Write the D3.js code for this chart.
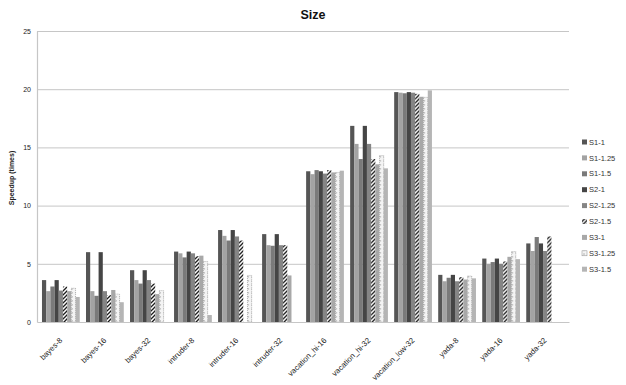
<!DOCTYPE html>
<html>
<head>
<meta charset="utf-8">
<script src="https://cdn.jsdelivr.net/npm/d3@7/dist/d3.min.js"></script>
<style>
  html, body { margin: 0; padding: 0; background: #fff; }
  svg { display: block; font-family: "Liberation Sans", Arial, sans-serif; }
</style>
</head>
<body>
<svg id="chart" width="626" height="385"></svg>
<script>
// Benchmarks on the x axis
const categories = ["bayes-8", "bayes-16", "bayes-32", "intruder-8", "intruder-16", "intruder-32",
  "vacation_hi-16", "vacation_hi-32", "vacation_low-32", "yada-8", "yada-16", "yada-32"];

// Configurations (one bar per configuration in every group)
const seriesNames = ["S1-1", "S1-1.25", "S1-1.5", "S2-1", "S2-1.25", "S2-1.5", "S3-1", "S3-1.25", "S3-1.5"];

// Speedup per configuration, one entry per benchmark
const s1_1    = [3.6, 6.0, 4.45, 6.05, 7.9, 7.55, 12.95, 16.85, 19.75, 4.05, 5.45, 6.75];
const s1_125  = [2.65, 2.65, 3.6, 5.9, 7.4, 6.6, 12.7, 15.3, 19.7, 3.5, 5.0, 6.1];
const s1_15   = [3.05, 2.25, 3.3, 5.55, 7.0, 6.55, 13.05, 14.0, 19.65, 3.8, 5.15, 7.3];
const s2_1    = [3.6, 6.0, 4.45, 6.05, 7.9, 7.55, 12.95, 16.85, 19.75, 4.05, 5.45, 6.75];
const s2_125  = [2.7, 2.65, 3.6, 5.9, 7.35, 6.6, 12.75, 15.3, 19.7, 3.5, 5.0, 6.1];
const s2_15   = [3.05, 2.3, 3.3, 5.65, 7.0, 6.6, 13.05, 14.0, 19.6, 3.85, 5.2, 7.35];
const s3_1    = [2.65, 2.75, 2.4, 5.7, 0, 4.0, 12.85, 13.55, 19.35, 3.65, 5.6, 0];
const s3_125  = [2.9, 2.4, 2.7, 5.2, 4.0, 0, 12.85, 14.3, 19.3, 3.95, 6.05, 0];
const s3_15   = [2.15, 1.7, 0, 0.6, 0, 0, 13.0, 13.2, 19.9, 3.75, 5.4, 0];

const seriesValues = [s1_1, s1_125, s1_15, s2_1, s2_125, s2_15, s3_1, s3_125, s3_15];

const yTicks = [0, 5, 10, 15, 20, 25];

const svg = d3.select("#chart");
const plot = { left: 37, right: 569, top: 31, bottom: 322 };

// Fills: solid greys, a diagonal hatch and a dotted lattice
const defs = svg.append("defs");
const hatch = defs.append("pattern")
  .attr("id", "hatch").attr("patternUnits", "userSpaceOnUse")
  .attr("width", 4).attr("height", 4);
hatch.append("rect").attr("width", 4).attr("height", 4).attr("fill", "#fff");
hatch.append("path").attr("d", "M-1,1 L1,-1 M0,4 L4,0 M3,5 L5,3")
  .attr("stroke", "#1a1a1a").attr("stroke-width", 1.3);

const dots = defs.append("pattern")
  .attr("id", "dots").attr("patternUnits", "userSpaceOnUse")
  .attr("width", 4).attr("height", 4);
dots.append("rect").attr("width", 4).attr("height", 4).attr("fill", "#f4f4f4");
dots.append("rect").attr("x", 1.5).attr("y", 0).attr("width", 1).attr("height", 1.6).attr("fill", "#9a9a9a");

const fills = ["#555555", "#a3a3a3", "#7a7a7a", "#454545", "#858585", "url(#hatch)", "#a8a8a8", "url(#dots)", "#b5b5b5"];
const strokes = [null, null, null, null, null, null, null, "#8a8a8a", null];

const x0 = d3.scaleBand().domain(categories)
  .range([plot.left, plot.right]).paddingInner(0.142).paddingOuter(0.113);
const x1 = d3.scaleBand().domain(seriesNames).range([0, x0.bandwidth()]);
const y = d3.scaleLinear().domain([0, 25]).range([plot.bottom, plot.top]);

// Horizontal gridlines
svg.append("g").selectAll("line").data(yTicks.filter(t => t > 0)).join("line")
  .attr("x1", plot.left).attr("x2", plot.right)
  .attr("y1", d => y(d) + 0.5).attr("y2", d => y(d) + 0.5)
  .attr("stroke", "#c6c6c6").attr("stroke-width", 1);

// Bars
const groups = svg.append("g").selectAll("g").data(categories).join("g")
  .attr("transform", d => `translate(${x0(d)},0)`);
groups.selectAll("rect")
  .data((c, ci) => seriesNames.map((s, si) => ({ s, si, v: seriesValues[si][ci] })))
  .join("rect")
  .filter(d => d.v > 0)
  .attr("x", d => x1(d.s))
  .attr("y", d => y(d.v))
  .attr("width", x1.bandwidth())
  .attr("height", d => y(0) - y(d.v))
  .attr("fill", d => fills[d.si])
  .attr("stroke", d => strokes[d.si])
  .attr("stroke-width", 0.6)
  .attr("stroke-dasharray", d => strokes[d.si] ? "1,1" : null);

// Axes
const yAxis = d3.axisLeft(y).tickValues(yTicks).tickSize(0).tickPadding(6);
const gy = svg.append("g").attr("transform", `translate(${plot.left},0)`).call(yAxis);
gy.select(".domain").attr("stroke", "#c6c6c6").attr("stroke-width", 1.2);
gy.selectAll("text").attr("font-size", 7).attr("fill", "#222");

const xAxis = d3.axisBottom(x0).tickSize(0).tickPadding(0);
const gx = svg.append("g").attr("transform", `translate(0,${plot.bottom})`).call(xAxis);
gx.select(".domain").attr("stroke", "#c6c6c6").attr("stroke-width", 1.2);
gx.selectAll("text")
  .attr("font-size", 7.8).attr("fill", "#222")
  .attr("text-anchor", "end")
  .attr("y", 0)
  .attr("dy", "0.35em")
  .attr("transform", "translate(0,17) rotate(-45)");

// Title and axis title
svg.append("text").attr("x", 313).attr("y", 19).attr("text-anchor", "middle")
  .attr("font-size", 12.5).attr("font-weight", "bold").attr("fill", "#111").text("Size");
svg.append("text").attr("transform", "translate(14,178) rotate(-90)")
  .attr("text-anchor", "middle").attr("font-size", 7).attr("font-weight", "bold")
  .attr("fill", "#222").text("Speedup (times)");

// Legend
const legend = svg.append("g").attr("transform", "translate(582,142)");
const items = legend.selectAll("g").data(seriesNames).join("g")
  .attr("transform", (d, i) => `translate(0,${i * 15.9})`);
items.append("rect").attr("x", 0).attr("y", -2.5).attr("width", 5).attr("height", 5)
  .attr("fill", (d, i) => fills[i])
  .attr("stroke", (d, i) => strokes[i]).attr("stroke-width", 0.5);
items.append("text").attr("x", 7).attr("y", 0).attr("dy", "0.35em")
  .attr("font-size", 7.5).attr("fill", "#333").text(d => d);
</script>
</body>
</html>
